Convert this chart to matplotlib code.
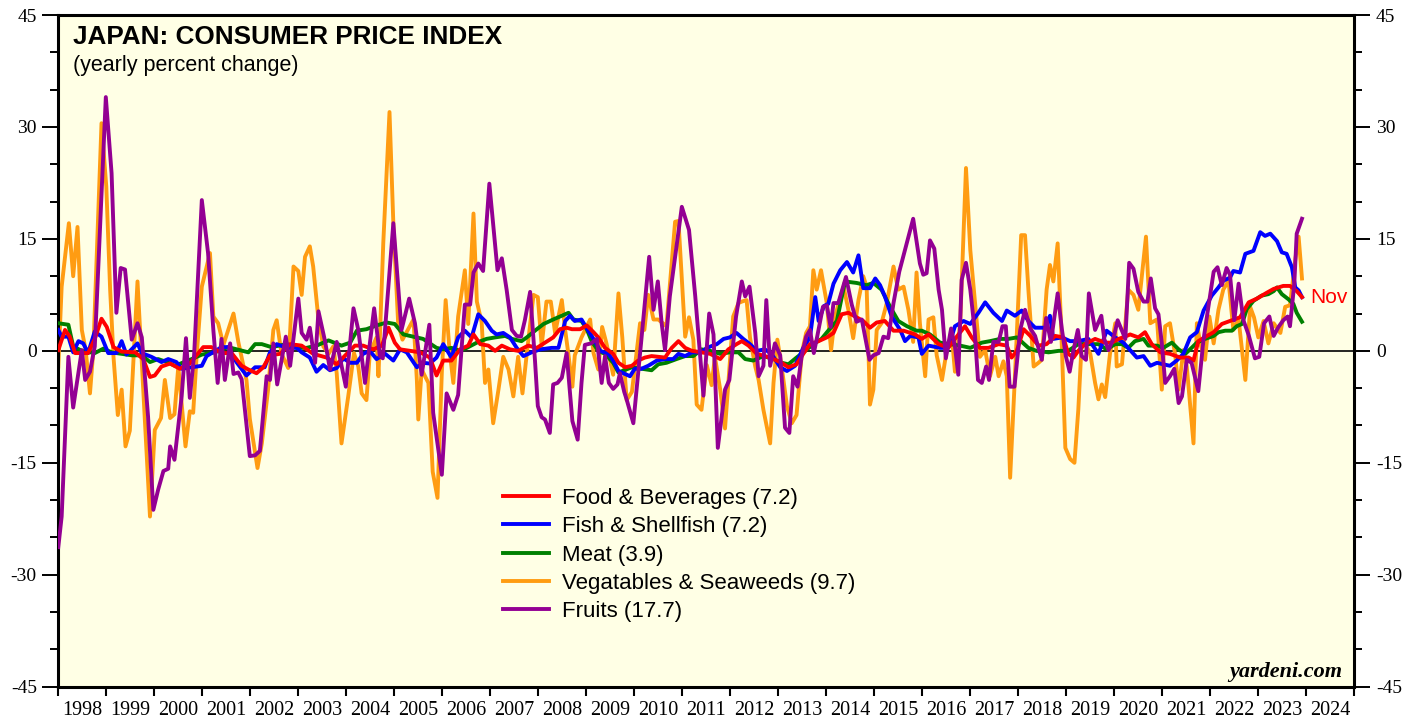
import matplotlib
matplotlib.use("Agg")
import matplotlib.pyplot as plt
from matplotlib.lines import Line2D
from matplotlib.ticker import MultipleLocator, FixedLocator, NullFormatter, FixedFormatter

plt.rcParams['axes.unicode_minus'] = False

# ---- data (decimal years / yearly % change) ----
food_t = [1998.0, 1998.14, 1998.24, 1998.35, 1998.62, 1998.76, 1998.9, 1999.01, 1999.15, 1999.32,
          1999.6, 1999.77, 1999.91, 2000.01, 2000.15, 2000.33, 2000.53, 2000.74, 2001.02, 2001.19,
          2001.4, 2001.61, 2001.82, 2001.96, 2002.13, 2002.27, 2002.41, 2002.62, 2002.83, 2003.07,
          2003.31, 2003.59, 2003.8, 2004.01, 2004.18, 2004.35, 2004.56, 2004.74, 2004.88, 2005.01,
          2005.12, 2005.33, 2005.54, 2005.74, 2005.88, 2006.02, 2006.19, 2006.37, 2006.54, 2006.65,
          2006.79, 2006.96, 2007.1, 2007.24, 2007.41, 2007.58, 2007.79, 2007.97, 2008.14, 2008.31,
          2008.45, 2008.59, 2008.7, 2008.87, 2009.01, 2009.15, 2009.25, 2009.39, 2009.56, 2009.67,
          2009.81, 2009.95, 2010.08, 2010.22, 2010.36, 2010.64, 2010.78, 2010.92, 2011.06, 2011.2,
          2011.4, 2011.58, 2011.79, 2011.96, 2012.13, 2012.24, 2012.38, 2012.55, 2012.72, 2012.9,
          2013.07, 2013.21, 2013.38, 2013.52, 2013.66, 2013.84, 2014.01, 2014.15, 2014.32, 2014.46,
          2014.63, 2014.77, 2014.91, 2015.05, 2015.22, 2015.4, 2015.61, 2015.85, 2015.99, 2016.13,
          2016.34, 2016.54, 2016.68, 2016.89, 2017.03, 2017.2, 2017.38, 2017.59, 2017.76, 2017.86,
          2017.97, 2018.11, 2018.25, 2018.42, 2018.59, 2018.77, 2018.94, 2019.04, 2019.15, 2019.25,
          2019.39, 2019.6, 2019.81, 2019.95, 2020.09, 2020.26, 2020.33, 2020.5, 2020.64, 2020.78,
          2020.96, 2021.16, 2021.37, 2021.55, 2021.65, 2021.75, 2021.93, 2022.07, 2022.24, 2022.41,
          2022.62, 2022.8, 2022.97, 2023.18, 2023.32, 2023.52, 2023.66, 2023.8, 2023.91]
food_v = [0.1, 2.8, 1.9, -0.3, -0.3, 1.6, 4.3, 3.2, 0.5, -0.1,
          -0.2, -1.1, -3.5, -3.3, -2.1, -1.7, -2.4, -1.7, 0.5, 0.5,
          -0.3, -0.3, -2.0, -2.5, -3.0, -2.2, -0.6, -0.4, 0.9, 0.7,
          -0.4, -0.9, -1.8, -0.4, 0.7, 0.7, 0.2, 0.7, 3.1, 1.1,
          0.2, 0.0, -0.2, -0.9, -3.3, -1.3, -1.3, 0.2, 0.7, 2.2,
          0.9, 0.7, 0.0, 0.7, 0.2, 0.0, 0.7, 0.4, 1.1, 1.8,
          2.9, 3.1, 2.9, 2.9, 3.4, 2.5, 1.8, 0.4, -0.4, -1.6,
          -2.2, -2.0, -1.3, -0.9, -0.7, -0.9, 0.4, 1.3, 0.4, 0.0,
          -0.2, -0.4, -1.1, 0.2, 0.9, 1.3, 0.7, -0.4, -0.7, -1.1,
          -1.6, -2.2, -1.8, -0.4, 0.9, 1.3, 1.8, 2.4, 4.9, 5.1,
          4.5, 4.0, 3.1, 3.8, 4.0, 2.7, 2.7, 2.2, 1.6, 2.2,
          0.9, 0.4, 1.6, 3.3, 1.8, 0.4, 0.4, 0.9, 0.7, -0.9,
          0.0, 2.9, 2.0, 0.7, 0.9, 2.0, 1.8, -0.4, -0.9, 0.0,
          0.9, 1.6, 1.1, 1.1, 1.6, 2.0, 2.2, 1.8, 2.5, 0.9,
          -0.2, -0.4, -0.9, -0.9, -1.3, 1.3, 2.0, 2.5, 3.6, 4.0,
          4.5, 6.5, 7.0, 7.8, 8.3, 8.7, 8.7, 8.0, 7.2]

fish_t = [1998.0, 1998.07, 1998.21, 1998.31, 1998.42, 1998.52, 1998.62, 1998.76, 1998.9, 1999.04,
          1999.21, 1999.32, 1999.42, 1999.65, 1999.74, 1999.94, 2000.15, 2000.29, 2000.46, 2000.57,
          2000.99, 2001.09, 2001.3, 2001.4, 2001.54, 2001.71, 2001.92, 2002.1, 2002.3, 2002.41,
          2002.55, 2002.76, 2002.97, 2003.07, 2003.24, 2003.38, 2003.52, 2003.66, 2003.8, 2003.94,
          2004.08, 2004.22, 2004.35, 2004.49, 2004.63, 2004.81, 2004.98, 2005.12, 2005.26, 2005.47,
          2005.6, 2005.74, 2005.88, 2006.02, 2006.19, 2006.33, 2006.47, 2006.61, 2006.75, 2006.89,
          2007.03, 2007.13, 2007.27, 2007.41, 2007.55, 2007.69, 2007.86, 2008.04, 2008.28, 2008.42,
          2008.56, 2008.66, 2008.76, 2008.9, 2009.04, 2009.15, 2009.29, 2009.46, 2009.56, 2009.67,
          2009.91, 2010.01, 2010.15, 2010.29, 2010.47, 2010.64, 2010.81, 2010.92, 2011.06, 2011.2,
          2011.4, 2011.51, 2011.72, 2011.86, 2011.99, 2012.13, 2012.27, 2012.41, 2012.55, 2012.72,
          2012.86, 2013.04, 2013.18, 2013.35, 2013.52, 2013.66, 2013.77, 2013.84, 2013.95, 2014.04,
          2014.15, 2014.29, 2014.43, 2014.56, 2014.67, 2014.77, 2014.91, 2015.02, 2015.12, 2015.22,
          2015.36, 2015.54, 2015.64, 2015.75, 2015.92, 2015.99, 2016.13, 2016.37, 2016.54, 2016.68,
          2016.86, 2017.0, 2017.17, 2017.31, 2017.48, 2017.66, 2017.76, 2017.93, 2018.07, 2018.21,
          2018.35, 2018.56, 2018.66, 2018.73, 2018.91, 2019.08, 2019.25, 2019.46, 2019.67, 2019.84,
          2020.02, 2020.19, 2020.4, 2020.47, 2020.61, 2020.75, 2020.89, 2021.02, 2021.16, 2021.3,
          2021.44, 2021.58, 2021.72, 2021.86, 2022.03, 2022.17, 2022.27, 2022.41, 2022.48, 2022.62,
          2022.73, 2022.9, 2023.04, 2023.14, 2023.25, 2023.39, 2023.49, 2023.59, 2023.7, 2023.77,
          2023.84, 2023.91]
fish_v = [2.8, 1.9, 1.9, -0.2, 1.3, 1.0, -0.3, 2.6, 1.9, -0.3,
          -0.3, 1.3, -0.5, 1.0, -0.3, -0.8, -1.5, -1.1, -1.5, -2.4,
          -2.0, -0.7, 0.1, 0.5, 0.5, -1.5, -3.3, -2.2, -2.2, -0.2,
          0.9, 0.4, 0.4, -0.2, -0.9, -2.8, -1.9, -2.6, -2.3, -1.0,
          -1.6, -1.6, -0.4, 0.0, -1.1, -0.4, -1.3, 0.2, -0.2, -2.2,
          -1.6, -1.7, -0.9, 0.9, -0.9, 1.8, 2.7, 1.8, 4.9, 4.0,
          2.7, 2.2, 2.4, 1.8, 0.4, -0.7, -0.2, 0.2, 0.4, 0.4,
          4.0, 4.7, 4.0, 4.2, 2.7, 1.6, 0.0, -0.4, -1.3, -2.7,
          -3.4, -2.4, -2.4, -2.0, -1.3, -1.1, -1.1, -0.4, -0.7, -0.2,
          -0.2, 0.4, 0.9, 1.6, 1.8, 2.4, 1.6, 0.9, 0.0, 0.2,
          -0.4, -2.2, -2.7, -2.0, 0.4, 1.8, 7.2, 4.0, 6.0, 6.3,
          9.0, 10.8, 11.9, 10.5, 12.8, 8.4, 8.4, 9.7, 8.8, 7.3,
          4.6, 2.8, 1.3, 2.0, 1.8, -0.4, 0.7, 0.4, 0.4, 3.3,
          4.0, 3.6, 5.1, 6.5, 5.1, 4.0, 5.4, 4.7, 5.4, 4.0,
          3.1, 3.1, 4.7, 1.6, 1.8, 1.3, 1.3, 1.6, -0.4, 2.7,
          1.8, 1.1, -0.4, -0.9, -0.7, -2.0, -1.6, -1.8, -2.0, -1.3,
          -0.4, 1.8, 2.5, 5.4, 7.4, 8.5, 9.4, 9.8, 10.7, 10.5,
          13.0, 13.4, 15.9, 15.4, 15.7, 14.7, 13.2, 13.0, 11.2, 8.5,
          8.1, 7.2]

meat_t = [1998.0, 1998.21, 1998.31, 1998.49, 1998.76, 1998.94, 1999.11, 1999.32, 1999.53, 1999.74,
          1999.91, 2000.08, 2000.26, 2000.43, 2000.78, 2000.99, 2001.26, 2001.54, 2001.96, 2002.1,
          2002.24, 2002.44, 2002.76, 2002.97, 2003.17, 2003.38, 2003.63, 2003.9, 2004.08, 2004.22,
          2004.42, 2004.63, 2004.84, 2005.01, 2005.19, 2005.33, 2005.6, 2005.88, 2006.02, 2006.19,
          2006.37, 2006.51, 2006.72, 2006.92, 2007.1, 2007.31, 2007.45, 2007.65, 2007.76, 2007.93,
          2008.11, 2008.31, 2008.49, 2008.63, 2008.73, 2008.9, 2009.01, 2009.11, 2009.25, 2009.39,
          2009.56, 2009.67, 2009.95, 2010.15, 2010.36, 2010.5, 2010.67, 2010.88, 2011.06, 2011.23,
          2011.4, 2011.58, 2011.79, 2011.99, 2012.17, 2012.31, 2012.48, 2012.69, 2012.9, 2013.07,
          2013.21, 2013.38, 2013.56, 2013.73, 2013.9, 2014.04, 2014.22, 2014.39, 2014.63, 2014.84,
          2014.98, 2015.15, 2015.33, 2015.5, 2015.68, 2015.88, 2015.99, 2016.16, 2016.37, 2016.58,
          2016.79, 2017.0, 2017.24, 2017.41, 2017.62, 2017.79, 2017.97, 2018.21, 2018.38, 2018.63,
          2018.84, 2019.04, 2019.25, 2019.46, 2019.67, 2019.84, 2020.02, 2020.16, 2020.29, 2020.43,
          2020.61, 2020.71, 2020.89, 2021.02, 2021.2, 2021.34, 2021.48, 2021.61, 2021.72, 2021.89,
          2022.07, 2022.17, 2022.31, 2022.45, 2022.55, 2022.66, 2022.76, 2022.9, 2023.07, 2023.21,
          2023.32, 2023.39, 2023.49, 2023.63, 2023.73, 2023.8, 2023.91]
meat_v = [3.7, 3.5, 0.6, 0.0, -0.3, 0.3, -0.2, -0.4, -0.6, -0.6,
          -1.5, -1.1, -1.5, -2.0, -1.1, -0.5, -0.2, 0.5, -0.2, 0.9,
          0.9, 0.5, 0.9, 0.4, 0.4, 0.7, 1.4, 0.7, 1.1, 2.7,
          2.9, 3.4, 3.8, 3.6, 2.2, 2.0, 1.6, 0.4, 0.2, 0.4,
          0.0, 0.4, 1.1, 1.6, 1.8, 2.0, 1.6, 1.3, 1.8, 2.7,
          3.6, 4.2, 4.7, 5.1, 4.2, 4.0, 2.9, 1.3, 0.0, -0.4,
          -1.6, -2.9, -2.2, -2.4, -2.6, -1.8, -1.6, -1.1, -0.7, -0.7,
          0.2, 0.0, -0.4, -0.2, -0.2, -1.1, -1.3, -0.7, -1.1, -1.6,
          -1.8, -0.9, 0.0, 0.9, 1.6, 2.7, 4.0, 9.3, 9.1, 8.8,
          9.1, 8.2, 5.9, 4.0, 3.3, 2.7, 2.7, 2.2, 1.1, 0.9,
          0.7, 0.4, 1.1, 1.3, 1.6, 1.6, 1.8, 0.4, 0.0, -0.2,
          0.0, 0.0, 0.9, 0.9, 0.9, 0.2, 0.9, 0.9, 0.4, 1.3,
          1.6, 0.7, 0.7, 0.4, 1.1, 0.2, -0.4, 0.4, 1.1, 1.6,
          2.0, 2.5, 2.7, 2.7, 3.3, 3.6, 5.6, 6.7, 7.4, 7.6,
          8.0, 8.5, 7.6, 6.9, 6.3, 5.1, 3.9]

veg_t = [1998.0, 1998.07, 1998.22, 1998.31, 1998.4, 1998.49, 1998.57, 1998.66, 1998.73, 1998.9,
         1999.0, 1999.08, 1999.15, 1999.24, 1999.32, 1999.4, 1999.49, 1999.65, 1999.74, 1999.91,
         2000.01, 2000.14, 2000.22, 2000.33, 2000.42, 2000.5, 2000.65, 2000.74, 2000.81, 2000.88,
         2000.99, 2001.16, 2001.23, 2001.33, 2001.44, 2001.51, 2001.65, 2001.75, 2001.92, 2001.99,
         2002.15, 2002.24, 2002.37, 2002.48, 2002.55, 2002.65, 2002.79, 2002.9, 2003.0, 2003.07,
         2003.14, 2003.24, 2003.31, 2003.42, 2003.52, 2003.63, 2003.73, 2003.8, 2003.9, 2004.04,
         2004.16, 2004.25, 2004.32, 2004.42, 2004.49, 2004.63, 2004.67, 2004.77, 2004.9, 2004.98,
         2005.08, 2005.17, 2005.28, 2005.4, 2005.47, 2005.5, 2005.57, 2005.71, 2005.8, 2005.9,
         2005.99, 2006.07, 2006.15, 2006.23, 2006.33, 2006.47, 2006.54, 2006.65, 2006.72, 2006.82,
         2006.89, 2006.96, 2007.06, 2007.17, 2007.27, 2007.38, 2007.48, 2007.58, 2007.67, 2007.76,
         2007.9, 2007.99, 2008.07, 2008.17, 2008.26, 2008.35, 2008.49, 2008.56, 2008.63, 2008.71,
         2008.76, 2008.9, 2009.08, 2009.15, 2009.25, 2009.33, 2009.42, 2009.56, 2009.67, 2009.75,
         2009.84, 2009.95, 2010.12, 2010.21, 2010.29, 2010.4, 2010.5, 2010.67, 2010.85, 2010.92,
         2011.06, 2011.14, 2011.23, 2011.3, 2011.4, 2011.51, 2011.61, 2011.68, 2011.79, 2011.89,
         2011.96, 2012.06, 2012.17, 2012.24, 2012.34, 2012.41, 2012.52, 2012.59, 2012.69, 2012.83,
         2012.9, 2012.98, 2013.07, 2013.18, 2013.28, 2013.38, 2013.49, 2013.58, 2013.66, 2013.73,
         2013.8, 2013.89, 2014.01, 2014.1, 2014.18, 2014.36, 2014.46, 2014.56, 2014.67, 2014.77,
         2014.84, 2014.91, 2014.98, 2015.05, 2015.15, 2015.26, 2015.4, 2015.5, 2015.61, 2015.71,
         2015.81, 2015.88, 2015.95, 2016.06, 2016.13, 2016.23, 2016.3, 2016.41, 2016.51, 2016.61,
         2016.68, 2016.79, 2016.91, 2017.0, 2017.1, 2017.2, 2017.31, 2017.41, 2017.52, 2017.59,
         2017.69, 2017.76, 2017.83, 2017.93, 2018.06, 2018.14, 2018.21, 2018.32, 2018.42, 2018.49,
         2018.59, 2018.66, 2018.73, 2018.82, 2018.89, 2018.98, 2019.08, 2019.17, 2019.25, 2019.32,
         2019.39, 2019.5, 2019.6, 2019.67, 2019.74, 2019.81, 2019.91, 2020.02, 2020.05, 2020.16,
         2020.29, 2020.4, 2020.5, 2020.66, 2020.75, 2020.89, 2020.99, 2021.06, 2021.16, 2021.27,
         2021.34, 2021.44, 2021.51, 2021.65, 2021.72, 2021.79, 2021.89, 2021.98, 2022.07, 2022.17,
         2022.27, 2022.38, 2022.48, 2022.59, 2022.73, 2022.83, 2022.91, 2023.0, 2023.11, 2023.21,
         2023.32, 2023.46, 2023.56, 2023.66, 2023.77, 2023.84, 2023.91]
veg_v = [-2.1, 8.6, 17.1, 10.0, 16.6, 2.8, 0.1, -5.7, 0.1, 30.5,
         22.0, 8.2, -0.8, -8.6, -5.2, -12.8, -10.7, 9.3, -1.6, -22.2,
         -10.6, -9.0, -3.9, -9.0, -8.5, -2.1, -12.8, -8.1, -8.3, -0.9,
         8.6, 13.1, 4.6, 3.7, 0.8, 2.2, 5.0, 1.2, -3.9, -9.1,
         -15.7, -12.4, -5.2, 2.8, 4.1, -0.4, -2.3, 11.3, 10.7, 7.5,
         12.6, 14.0, 11.3, 4.2, 0.6, -0.4, 0.6, -3.0, -12.4, -6.1,
         -0.3, -2.1, -5.7, -6.6, -0.3, 1.8, -3.4, 14.4, 32.0, 17.1,
         3.7, 1.5, 2.8, 4.2, -3.9, -9.2, -2.5, -4.3, -16.2, -19.7,
         -2.9, 6.8, 0.1, -4.3, 4.6, 10.8, 3.6, 18.4, 6.6, 3.8,
         -4.3, -2.5, -9.7, -5.2, -0.8, -2.5, -6.1, -0.8, -5.7, -0.4,
         7.5, 7.2, 0.7, 6.6, 6.6, 2.4, 6.8, 2.8, -0.6, -4.8,
         -0.6, 1.8, 4.2, -0.3, -2.5, 3.2, 1.0, -3.2, 7.7, 1.8,
         -6.6, -5.5, 3.7, 2.8, 7.5, 4.2, 4.2, 3.3, 17.3, 17.4,
         1.9, 4.5, 1.5, -7.2, -7.9, -1.9, -4.6, -0.8, -5.2, -10.4,
         -4.3, 4.6, 6.4, 6.6, 6.8, 1.8, -2.1, -3.9, -7.9, -12.4,
         -4.3, 1.5, -2.1, -7.4, -9.7, -8.6, -0.3, 2.4, 3.3, 10.8,
         8.2, 10.8, 6.4, 0.1, 4.6, 8.6, 5.5, 1.7, 6.8, 10.0,
         8.6, -7.2, -5.2, 2.8, 3.7, 6.4, 11.3, 8.2, 8.6, 5.5,
         1.2, 10.5, 3.7, -3.4, 4.2, 4.5, -0.6, -3.9, 0.1, 2.4,
         -2.8, 3.8, 24.5, 13.5, 6.4, -0.8, 0.1, -3.4, -0.8, -3.4,
         -1.4, -3.4, -17.0, -3.4, 15.5, 15.5, 8.2, -2.1, -1.6, -1.2,
         8.2, 11.5, 9.3, 14.4, 3.7, -13.0, -14.5, -15.0, -7.9, 1.0,
         1.0, -0.4, -4.3, -6.5, -4.5, -6.2, -0.4, 3.7, -2.1, -1.8,
         8.2, 7.5, 5.5, 15.3, 3.7, 4.2, -5.2, 3.3, 3.7, -0.6,
         -5.2, 0.1, -2.1, -12.4, 3.7, 1.0, -1.2, 4.6, 1.0, 5.5,
         8.2, 9.4, 2.8, 4.2, -3.9, 5.9, 4.5, 1.8, 4.0, 1.0,
         3.7, 2.4, 5.9, 6.1, 12.2, 15.3, 9.7]

fruit_t = [1998.0, 1998.07, 1998.21, 1998.31, 1998.49, 1998.56, 1998.66, 1998.76, 1998.99, 1999.11,
           1999.21, 1999.3, 1999.39, 1999.53, 1999.65, 1999.74, 1999.87, 1999.98, 2000.08, 2000.19,
           2000.29, 2000.33, 2000.42, 2000.57, 2000.66, 2000.74, 2000.83, 2000.99, 2001.12, 2001.23,
           2001.32, 2001.4, 2001.47, 2001.58, 2001.65, 2001.75, 2001.82, 2001.99, 2002.1, 2002.2,
           2002.34, 2002.41, 2002.48, 2002.56, 2002.74, 2002.83, 2003.0, 2003.07, 2003.17, 2003.24,
           2003.35, 2003.42, 2003.56, 2003.66, 2003.8, 2003.99, 2004.15, 2004.25, 2004.39, 2004.58,
           2004.7, 2004.76, 2004.98, 2005.15, 2005.31, 2005.43, 2005.57, 2005.73, 2005.81, 2005.99,
           2006.09, 2006.23, 2006.33, 2006.47, 2006.58, 2006.65, 2006.75, 2006.85, 2006.98, 2007.15,
           2007.24, 2007.34, 2007.45, 2007.55, 2007.64, 2007.72, 2007.83, 2007.93, 2007.99, 2008.07,
           2008.14, 2008.24, 2008.31, 2008.4, 2008.49, 2008.59, 2008.71, 2008.82, 2008.9, 2008.97,
           2009.1, 2009.22, 2009.32, 2009.39, 2009.47, 2009.56, 2009.65, 2009.7, 2009.79, 2009.84,
           2009.98, 2010.14, 2010.31, 2010.4, 2010.49, 2010.57, 2010.64, 2010.74, 2010.99, 2011.14,
           2011.27, 2011.44, 2011.56, 2011.65, 2011.74, 2011.89, 2011.98, 2012.12, 2012.24, 2012.31,
           2012.4, 2012.52, 2012.59, 2012.69, 2012.75, 2012.83, 2012.93, 2013.04, 2013.14, 2013.23,
           2013.31, 2013.4, 2013.49, 2013.58, 2013.66, 2013.74, 2013.81, 2013.93, 2014.01, 2014.09,
           2014.15, 2014.25, 2014.41, 2014.53, 2014.63, 2014.74, 2014.9, 2014.98, 2015.09, 2015.19,
           2015.29, 2015.4, 2015.52, 2015.81, 2015.95, 2016.02, 2016.09, 2016.16, 2016.25, 2016.34,
           2016.41, 2016.49, 2016.6, 2016.68, 2016.75, 2016.82, 2016.91, 2017.0, 2017.09, 2017.16,
           2017.24, 2017.33, 2017.39, 2017.48, 2017.59, 2017.67, 2017.74, 2017.82, 2017.92, 2018.04,
           2018.14, 2018.25, 2018.35, 2018.49, 2018.58, 2018.68, 2018.82, 2018.91, 2018.99, 2019.07,
           2019.15, 2019.24, 2019.32, 2019.41, 2019.47, 2019.6, 2019.73, 2019.79, 2019.88, 2019.98,
           2020.07, 2020.23, 2020.31, 2020.4, 2020.5, 2020.61, 2020.69, 2020.76, 2020.85, 2020.92,
           2020.99, 2021.06, 2021.16, 2021.25, 2021.34, 2021.41, 2021.51, 2021.61, 2021.75, 2021.86,
           2022.07, 2022.15, 2022.24, 2022.34, 2022.41, 2022.5, 2022.59, 2022.69, 2022.8, 2022.93,
           2023.02, 2023.12, 2023.23, 2023.32, 2023.42, 2023.52, 2023.61, 2023.66, 2023.75, 2023.8,
           2023.91]
fruit_v = [-26.3, -22.2, -0.8, -7.6, 0.1, -3.9, -2.8, 0.6, 34.0, 23.8,
           5.1, 11.1, 10.9, 1.5, 3.7, 1.8, -8.8, -21.3, -18.6, -16.1,
           -15.8, -12.8, -14.6, -6.1, 1.7, -6.3, -0.5, 20.2, 13.1, 2.8,
           -4.3, 1.6, -3.9, 1.0, -3.1, -2.9, -3.8, -14.1, -14.0, -13.4,
           -3.4, -3.9, 1.0, -4.5, 1.9, -2.0, 7.0, 2.4, 1.5, 3.1,
           -1.6, 5.3, 1.2, -2.5, 1.2, -4.8, 5.7, 2.8, -4.3, 5.7,
           -0.7, -1.0, 17.1, 2.8, 7.0, 3.7, -3.2, 3.5, -8.3, -16.6,
           -5.7, -7.9, -5.9, 6.2, 6.2, 10.5, 11.7, 10.7, 22.4, 10.8,
           12.4, 8.2, 2.8, 2.0, 1.9, 4.1, 7.9, -1.2, -7.4, -8.9,
           -9.2, -11.0, -4.5, -4.3, -3.6, -0.3, -9.4, -11.9, -4.3, 0.8,
           1.0, 1.6, -4.3, -0.7, -4.3, -5.1, -4.5, -3.0, -5.5, -6.5,
           -9.7, 1.0, 12.6, 5.5, 9.3, 3.7, 0.1, 7.3, 19.3, 16.2,
           7.3, -6.0, 5.0, 2.2, -13.0, -5.2, -3.9, 4.6, 9.3, 7.3,
           8.6, 2.4, -3.4, -2.0, 6.8, -2.0, 1.0, -0.6, -10.3, -11.0,
           -3.4, -4.8, -0.6, 1.9, 2.8, -0.3, 1.9, 5.9, 6.1, 3.2,
           6.4, 6.4, 9.9, 6.2, 3.9, 4.2, -1.2, -0.6, -0.3, 1.9,
           1.7, 6.4, 10.6, 17.7, 11.7, 10.2, 10.4, 14.8, 13.7, 8.2,
           5.5, -1.0, 3.0, 0.6, -3.2, 9.5, 11.8, 8.2, 2.8, -3.9,
           -4.3, -2.1, -3.9, 1.2, 1.2, 3.3, 3.3, -4.8, -4.8, 2.8,
           5.5, 3.0, 2.0, -1.2, 4.4, 1.2, 7.7, 2.8, -0.7, -2.8,
           0.1, 2.8, -0.7, -1.2, 7.7, 2.8, 4.7, 1.6, 0.1, 1.6,
           4.1, 1.6, 11.8, 11.0, 7.9, 6.6, 6.6, 9.7, 5.7, 4.9,
           1.0, -4.3, -3.4, -2.4, -7.0, -6.1, -1.2, -1.6, -5.4, 1.6,
           10.6, 11.2, 8.8, 11.1, 10.2, 4.1, 9.0, 4.1, 2.1, -1.0,
           -0.8, 3.7, 4.6, 2.0, 3.2, 4.1, 4.6, 3.3, 9.0, 15.7,
           17.7]

labels = ['Food & Beverages (7.2)', 'Fish & Shellfish (7.2)', 'Meat (3.9)',
          'Vegatables & Seaweeds (9.7)', 'Fruits (17.7)']
colors = ['#ff0000', '#0000ff', '#008000', '#ff9c12', '#930093']

years = list(range(1998, 2026))
year_labels = [str(y) for y in range(1998, 2025)]

# ---- figure ----
fig = plt.figure(figsize=(14.19, 7.21), dpi=100)
ax = fig.add_axes([58.3 / 1419, 1 - 686.7 / 721, 1296 / 1419, 671.7 / 721])
ax.set_facecolor('#ffffe5')

lw = 2.8
ax.axhline(0, color='black', lw=1.2, zorder=1)
ax.plot(veg_t, veg_v, color=colors[3], lw=lw, solid_joinstyle='round', zorder=2)
ax.plot(meat_t, meat_v, color=colors[2], lw=lw, solid_joinstyle='round', zorder=3)
ax.plot(fish_t, fish_v, color=colors[1], lw=lw, solid_joinstyle='round', zorder=4)
ax.plot(food_t, food_v, color=colors[0], lw=lw, solid_joinstyle='round', zorder=5)
ax.plot(fruit_t, fruit_v, color=colors[4], lw=lw, solid_joinstyle='round', zorder=6)

ax.set_xlim(1998, 2025)
ax.set_ylim(-45, 45)

for s in ax.spines.values():
    s.set_linewidth(2.2)

# y axis: labels both sides, serif
ax.yaxis.set_major_locator(MultipleLocator(15))
ax.yaxis.set_minor_locator(MultipleLocator(5))
ax.tick_params(axis='y', which='both', direction='out', left=True, right=True,
               labelleft=True, labelright=True, width=1.4, labelsize=14)
ax.tick_params(axis='y', which='major', length=11.5, pad=4)
ax.tick_params(axis='y', which='minor', length=5.8)
for t in ax.get_yticklabels():
    t.set_family('Liberation Serif')

# x axis: ticks at year boundaries, labels centred in between
ax.xaxis.set_major_locator(FixedLocator(years))
ax.xaxis.set_major_formatter(NullFormatter())
ax.xaxis.set_minor_locator(FixedLocator([y + 0.5 for y in range(1998, 2025)]))
ax.xaxis.set_minor_formatter(FixedFormatter(year_labels))
ax.tick_params(axis='x', which='major', direction='out', length=6.5, width=1.5)
ax.tick_params(axis='x', which='minor', length=0, pad=10, labelsize=14.5)
for t in ax.xaxis.get_minorticklabels():
    t.set_family('Liberation Serif')

# titles
ax.text(0.0113, 0.957, 'JAPAN: CONSUMER PRICE INDEX', transform=ax.transAxes,
        fontsize=18.8, fontweight='bold', family='Liberation Sans', va='baseline')
ax.text(0.0113, 0.917, '(yearly percent change)', transform=ax.transAxes,
        fontsize=15.5, family='Liberation Sans', va='baseline')

ax.text(2024.08, 7.1, 'Nov', color='#ff0000', fontsize=15, family='Liberation Sans',
        va='center', ha='left')

ax.text(0.991, 0.0144, 'yardeni.com', transform=ax.transAxes, ha='right', va='baseline',
        fontsize=16, family='Liberation Serif', fontweight='bold', style='italic')

handles = [Line2D([], [], color=c, lw=2.8) for c in colors]
ax.legend(handles, labels, loc='upper left', bbox_to_anchor=(0.343, 0.296),
          frameon=False, handlelength=2.1, handletextpad=0.58,
          labelspacing=0.33, borderpad=0, borderaxespad=0,
          prop={'family': 'Liberation Sans', 'size': 16})

fig.savefig('out.png', dpi=100)
